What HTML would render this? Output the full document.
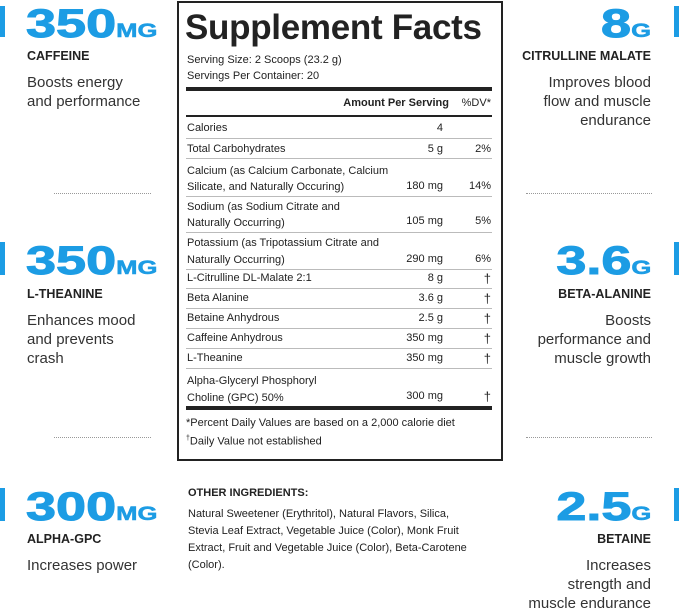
<!DOCTYPE html>
<html><head><meta charset="utf-8"><style>
*{margin:0;padding:0;box-sizing:border-box}
body{width:679px;height:611px;background:#fff;position:relative;overflow:hidden;font-family:"Liberation Sans",sans-serif;color:#222}
.a{position:absolute;white-space:nowrap}
.big{font-weight:bold;color:#1c9ce4;font-size:40px;letter-spacing:0;line-height:1;transform:scaleX(1.35);transform-origin:left top;-webkit-text-stroke:1px #1c9ce4}
.big.r{transform-origin:right top}
.big small{font-size:19px;letter-spacing:0;-webkit-text-stroke:0.5px #1c9ce4}
.lab{font-weight:bold;font-size:12.5px;color:#222}
.desc{font-size:15px;line-height:19px;color:#333}
.r{text-align:right}
.bar{position:absolute;width:5px;background:#1c9ce4}
.dot{position:absolute;height:0;border-top:1px dotted #999;width:97px}
.t{font-size:11px;color:#222}
.ln{position:absolute;left:186px;width:306px;height:1px;background:#bbb}
.th{position:absolute;left:186px;width:306px;background:#222}
</style></head><body>
<div class="bar" style="left:0;top:6px;height:31px"></div>
<div class="bar" style="left:0;top:242px;height:33px"></div>
<div class="bar" style="left:0;top:488px;height:33px"></div>
<div class="bar" style="left:674px;top:6px;height:31px"></div>
<div class="bar" style="left:674px;top:242px;height:33px"></div>
<div class="bar" style="left:674px;top:488px;height:33px"></div>

<div class="a big" style="left:26px;top:4px">350<small>MG</small></div>
<div class="a lab" style="left:27px;top:49px">CAFFEINE</div>
<div class="a desc" style="left:27px;top:73px">Boosts energy<br>and performance</div>
<div class="dot" style="left:54px;top:193px"></div>
<div class="a big" style="left:26px;top:241px">350<small>MG</small></div>
<div class="a lab" style="left:27px;top:287px">L-THEANINE</div>
<div class="a desc" style="left:27px;top:311px">Enhances mood<br>and prevents<br>crash</div>
<div class="dot" style="left:54px;top:437px"></div>
<div class="a big" style="left:26px;top:487px">300<small>MG</small></div>
<div class="a lab" style="left:27px;top:532px">ALPHA-GPC</div>
<div class="a desc" style="left:27px;top:556px">Increases power</div>

<div class="a big r" style="right:28px;top:4px">8<small>G</small></div>
<div class="a lab r" style="right:28px;top:49px">CITRULLINE MALATE</div>
<div class="a desc r" style="right:28px;top:73px">Improves blood<br>flow and muscle<br>endurance</div>
<div class="dot" style="left:526px;top:193px;width:126px"></div>
<div class="a big r" style="right:28px;top:241px">3.6<small>G</small></div>
<div class="a lab r" style="right:28px;top:287px">BETA-ALANINE</div>
<div class="a desc r" style="right:28px;top:311px">Boosts<br>performance and<br>muscle growth</div>
<div class="dot" style="left:526px;top:437px;width:126px"></div>
<div class="a big r" style="right:28px;top:487px">2.5<small>G</small></div>
<div class="a lab r" style="right:28px;top:532px">BETAINE</div>
<div class="a desc r" style="right:28px;top:556px">Increases<br>strength and<br>muscle endurance</div>

<div style="position:absolute;left:177px;top:1px;width:326px;height:460px;border:2px solid #222"></div>
<div class="a" style="left:185px;top:8px;font-size:35px;font-weight:bold;letter-spacing:-0.3px;color:#222">Supplement Facts</div>
<div class="a t" style="left:187px;top:54px">Serving Size: 2 Scoops (23.2 g)</div>
<div class="a t" style="left:187px;top:70px">Servings Per Container: 20</div>
<div class="th" style="top:87px;height:4px"></div>
<div class="a t" style="right:230px;top:97px;font-weight:bold">Amount Per Serving</div>
<div class="a t" style="right:188px;top:97px">%DV*</div>
<div class="th" style="top:115px;height:2px"></div>

<div class="a t" style="left:187px;top:122px">Calories</div><div class="a t" style="right:236px;top:122px">4</div>
<div class="ln" style="top:138px"></div>
<div class="a t" style="left:187px;top:143px">Total Carbohydrates</div><div class="a t" style="right:236px;top:143px">5 g</div><div class="a t" style="right:188px;top:143px">2%</div>
<div class="ln" style="top:158px"></div>
<div class="a t" style="left:187px;top:163px;line-height:16px">Calcium (as Calcium Carbonate, Calcium<br>Silicate, and Naturally Occuring)</div><div class="a t" style="right:236px;top:180px">180 mg</div><div class="a t" style="right:188px;top:180px">14%</div>
<div class="ln" style="top:196px"></div>
<div class="a t" style="left:187px;top:199px;line-height:16px">Sodium (as Sodium Citrate and<br>Naturally Occurring)</div><div class="a t" style="right:236px;top:215px">105 mg</div><div class="a t" style="right:188px;top:215px">5%</div>
<div class="ln" style="top:232px"></div>
<div class="a t" style="left:187px;top:235px;line-height:17px">Potassium (as Tripotassium Citrate and<br>Naturally Occurring)</div><div class="a t" style="right:236px;top:253px">290 mg</div><div class="a t" style="right:188px;top:253px">6%</div>
<div class="ln" style="top:269px"></div>
<div class="a t" style="left:187px;top:272px">L-Citrulline DL-Malate 2:1</div><div class="a t" style="right:236px;top:272px">8 g</div><div class="a t" style="right:188px;top:271px;font-size:13px">†</div>
<div class="ln" style="top:288px"></div>
<div class="a t" style="left:187px;top:292px">Beta Alanine</div><div class="a t" style="right:236px;top:292px">3.6 g</div><div class="a t" style="right:188px;top:291px;font-size:13px">†</div>
<div class="ln" style="top:308px"></div>
<div class="a t" style="left:187px;top:312px">Betaine Anhydrous</div><div class="a t" style="right:236px;top:312px">2.5 g</div><div class="a t" style="right:188px;top:311px;font-size:13px">†</div>
<div class="ln" style="top:328px"></div>
<div class="a t" style="left:187px;top:332px">Caffeine Anhydrous</div><div class="a t" style="right:236px;top:332px">350 mg</div><div class="a t" style="right:188px;top:331px;font-size:13px">†</div>
<div class="ln" style="top:348px"></div>
<div class="a t" style="left:187px;top:352px">L-Theanine</div><div class="a t" style="right:236px;top:352px">350 mg</div><div class="a t" style="right:188px;top:351px;font-size:13px">†</div>
<div class="ln" style="top:368px"></div>
<div class="a t" style="left:187px;top:373px;line-height:17px">Alpha-Glyceryl Phosphoryl<br>Choline (GPC) 50%</div><div class="a t" style="right:236px;top:390px">300 mg</div><div class="a t" style="right:188px;top:389px;font-size:13px">†</div>
<div class="th" style="top:406px;height:4px"></div>
<div class="a t" style="left:186px;top:417px">*Percent Daily Values are based on a 2,000 calorie diet</div>
<div class="a t" style="left:186px;top:435px"><sup style="font-size:7px">†</sup>Daily Value not established</div>

<div class="a t" style="left:188px;top:487px;font-weight:bold;font-size:11px">OTHER INGREDIENTS:</div>
<div class="a t" style="left:188px;top:506px;line-height:17px;font-size:11px">Natural Sweetener (Erythritol), Natural Flavors, Silica,<br>Stevia Leaf Extract, Vegetable Juice (Color), Monk Fruit<br>Extract, Fruit and Vegetable Juice (Color), Beta-Carotene<br>(Color).</div>
</body></html>
